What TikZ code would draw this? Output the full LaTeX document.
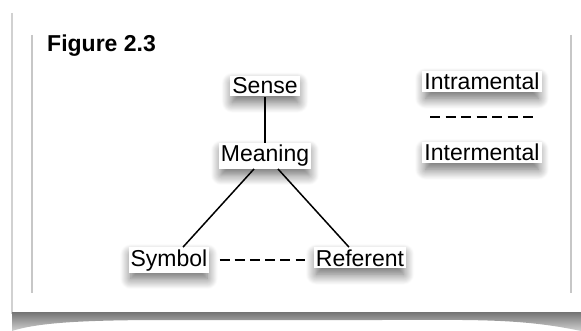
\documentclass[tikz,border=0pt]{standalone}
\usepackage{fontspec}
\setmainfont{Liberation Sans}
\usetikzlibrary{shadows.blur}

\tikzset{
  term/.style={fill=white, inner sep=2pt, font=\fontsize{23}{27}\selectfont,
    blur shadow={shadow xshift=0pt, shadow yshift=-7pt, shadow scale=0.95,
                 shadow blur radius=11pt, shadow blur steps=14, shadow opacity=60}},
  link/.style={line width=1.5pt, black},
  dashlink/.style={line width=1.8pt, black, dash pattern=on 10pt off 5.2pt},
  edge/.style={line width=2.2pt, black!22},
}

\begin{document}
\begin{tikzpicture}[x=1pt, y=-1pt]
  \useasboundingbox (0,0) rectangle (581,331);

  % page edges
  \draw[edge, black!18] (12,13) -- (12,314);
  \draw[edge] (32,35) -- (32,293);
  \draw[edge] (571,35) -- (571,293);

  % curled shadow under the page
  \shade[top color=black!55, bottom color=black!18]
    (12,312) -- (581,312) -- (581,331)
    .. controls (520,318) and (470,320) .. (380,320)
    -- (170,320) .. controls (90,320) and (40,322) .. (12,331) -- cycle;

  % title
  \node[anchor=base west, inner sep=0pt, font=\fontsize{23}{27}\selectfont\bfseries]
    (title) at (47,52) {Figure 2.3};

  % terms
  \node[term, anchor=base] (sense)   at (265,94)  {Sense};
  \node[term, anchor=base] (meaning) at (265,162) {Meaning};
  \node[term, anchor=base] (symbol)  at (169,266) {Symbol};
  \node[term, anchor=base] (referent) at (360,266) {Referent};
  \node[term, anchor=base] (intra)   at (482,90)  {Intramental};
  \node[term, anchor=base] (inter)   at (482,161) {Intermental};

  % connectors
  \draw[link, shorten <=1pt] (sense.south) -- (meaning.north);
  \draw[link] ([xshift=-11pt]meaning.south) -- ([xshift=14pt]symbol.north);
  \draw[link] ([xshift=13pt]meaning.south) -- ([xshift=-11pt]referent.north);
  \draw[dashlink, shorten <=10pt, shorten >=9pt] (symbol.east) -- (symbol.east -| referent.west);

  % divider between the two realms
  \coordinate (divl) at (430,117);
  \coordinate (divr) at (533,117);
  \draw[dashlink, dash pattern=on 10pt off 5.5pt] (divl) -- (divr);
\end{tikzpicture}
\end{document}
